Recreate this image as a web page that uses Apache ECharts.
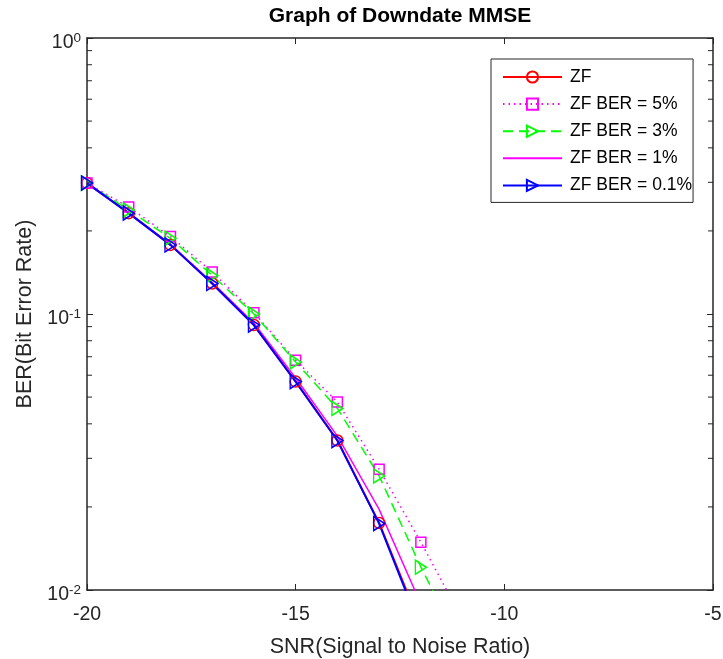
<!DOCTYPE html>
<html>
<head>
<meta charset="utf-8">
<script src="https://cdn.jsdelivr.net/npm/echarts@6/dist/echarts.min.js"></script>
<style>
html,body{margin:0;padding:0;background:#fff;}
#chart{width:723px;height:659px;}
</style>
</head>
<body>
<div id="chart"></div>
<script>
// ---- data ----
const snr = [-20, -19, -18, -17, -16, -15, -14, -13, -12, -11];
const zf     = [0.298, 0.232, 0.178, 0.129, 0.0912, 0.0569, 0.0348, 0.0175, 0.0074];
const ber5   = [0.298, 0.244, 0.191, 0.142, 0.101, 0.068, 0.048, 0.0274, 0.0149, 0.0078];
const ber3   = [0.298, 0.238, 0.188, 0.138, 0.100, 0.067, 0.0455, 0.0259, 0.0121, 0.0061];
const ber1   = [0.298, 0.232, 0.179, 0.130, 0.0927, 0.0586, 0.0361, 0.0196, 0.0089];
const ber01  = [0.298, 0.232, 0.178, 0.129, 0.0912, 0.0569, 0.0348, 0.0174, 0.0072];
const seriesNames = ['ZF', 'ZF BER = 5%', 'ZF BER = 3%', 'ZF BER = 1%', 'ZF BER = 0.1%'];
const xTicks = [-20, -15, -10, -5];
const minorTicks = [0.02, 0.03, 0.04, 0.05, 0.06, 0.07, 0.08, 0.09, 0.2, 0.3, 0.4, 0.5, 0.6, 0.7, 0.8, 0.9];
const titleText = 'Graph of Downdate MMSE';
const xName = 'SNR(Signal to Noise Ratio)';
const yName = 'BER(Bit Error Rate)';

// ---- chart ----
const FONT = '"Liberation Sans", Arial, Helvetica, sans-serif';
const AX = '#262626';
const chart = echarts.init(document.getElementById('chart'), null, {renderer: 'canvas'});
const pair = (ys) => ys.map((y, i) => [snr[i], y]);
const tri = 'path://M0,0 L10,5 L0,10 Z';

function lineSeries(name, data, color, type, width, symbol, size) {
  const noSym = symbol === 'none';
  return {
    name: name, type: 'line', data: pair(data),
    xAxisIndex: 0, yAxisIndex: 0,
    symbol: symbol, symbolSize: size, showSymbol: !noSym,
    lineStyle: {color: color, width: width, type: type},
    itemStyle: noSym ? {color: 'rgba(0,0,0,0)', borderColor: 'rgba(0,0,0,0)', borderWidth: 0}
                     : {color: 'rgba(0,0,0,0)', borderColor: color, borderWidth: 1.5},
    emphasis: {disabled: true},
    clip: true, animation: false, z: 3
  };
}

const option = {
  animation: false,
  backgroundColor: '#fff',
  textStyle: {fontFamily: FONT},
  grid: {left: 87, right: 10, top: 38, bottom: 69, containLabel: false, outerBoundsMode: 'none'},
  graphic: [{
    type: 'text', x: 400, y: 6,
    style: {text: titleText, font: 'bold 21px ' + FONT, fill: '#000', textAlign: 'center', textVerticalAlign: 'top'}
  }],
  legend: {
    orient: 'vertical', left: 491, top: 59,
    data: seriesNames,
    backgroundColor: '#fff', borderColor: AX, borderWidth: 1,
    padding: [9, 1, 8, 11],
    itemWidth: 59, itemHeight: 14, itemGap: 9.1,
    textStyle: {fontSize: 17.5, color: '#000', fontFamily: FONT, padding: [0, 0, 0, 3]},
    selectedMode: false
  },
  xAxis: [{
    type: 'value', min: -20, max: -5, interval: 5,
    position: 'bottom',
    name: xName, nameLocation: 'middle', nameGap: 46,
    nameTextStyle: {fontSize: 21.5, color: AX, fontFamily: FONT},
    axisLine: {show: true, onZero: false, lineStyle: {color: AX, width: 1.5}},
    axisTick: {show: true, inside: true, length: 6, lineStyle: {color: AX, width: 1}},
    axisLabel: {show: true, fontSize: 19.5, color: AX, margin: 15, fontFamily: FONT,
      formatter: (v) => xTicks.indexOf(v) >= 0 ? String(v) : ''},
    splitLine: {show: false}
  }, {
    type: 'value', min: -20, max: -5, interval: 5, position: 'top',
    axisLine: {show: true, onZero: false, lineStyle: {color: AX, width: 1.5}},
    axisTick: {show: true, inside: true, length: 6, lineStyle: {color: AX, width: 1}},
    axisLabel: {show: false}, splitLine: {show: false}
  }],
  yAxis: [{
    type: 'log', min: 0.01, max: 1, logBase: 10, position: 'left',
    name: yName, nameLocation: 'middle', nameGap: 49, nameRotate: 90,
    nameTextStyle: {fontSize: 21.5, color: AX, fontFamily: FONT},
    axisLine: {show: true, onZero: false, lineStyle: {color: AX, width: 1.5}},
    axisTick: {show: true, inside: true, length: 6, lineStyle: {color: AX, width: 1}},
    axisLabel: {show: true, margin: 6, fontFamily: FONT, padding: [10, 0, 0, 0],
      formatter: (v) => '{b|10}{s|' + Math.round(Math.log10(v)) + '}',
      rich: {
        b: {fontSize: 19.5, color: AX, fontFamily: FONT},
        s: {fontSize: 13.5, color: AX, fontFamily: FONT, padding: [0, 0, 10, 0]}
      }},
    splitLine: {show: false}
  }, {
    type: 'log', min: 0.01, max: 1, logBase: 10, position: 'right',
    axisLine: {show: true, onZero: false, lineStyle: {color: AX, width: 1.5}},
    axisTick: {show: true, inside: true, length: 6, lineStyle: {color: AX, width: 1}},
    axisLabel: {show: false}, splitLine: {show: false}
  }],
  series: [
    lineSeries('ZF', zf, '#ff0000', 'solid', 2, 'circle', 11),
    lineSeries('ZF BER = 5%', ber5, '#ff00ff', [1.5, 4], 1.5, 'rect', 10),
    lineSeries('ZF BER = 3%', ber3, '#00ff00', [10, 6], 1.5, tri, [11, 14]),
    lineSeries('ZF BER = 1%', ber1, '#ff00ff', 'solid', 1.5, 'none', 0),
    lineSeries('ZF BER = 0.1%', ber01, '#0000ff', 'solid', 2, tri, [11, 14]),
    {
      type: 'custom', xAxisIndex: 0, yAxisIndex: 0, silent: true, z: 2,
      data: minorTicks.map((v) => [v]),
      encode: {y: 0},
      renderItem: function (params, api) {
        const v = api.value(0);
        const l = api.coord([-20, v]);
        const r = api.coord([-5, v]);
        const st = {stroke: AX, lineWidth: 1};
        return {type: 'group', children: [
          {type: 'line', shape: {x1: l[0], y1: l[1], x2: l[0] + 5, y2: l[1]}, style: st},
          {type: 'line', shape: {x1: r[0], y1: r[1], x2: r[0] - 5, y2: r[1]}, style: st}
        ]};
      }
    }
  ]
};
chart.setOption(option);
</script>
</body>
</html>
